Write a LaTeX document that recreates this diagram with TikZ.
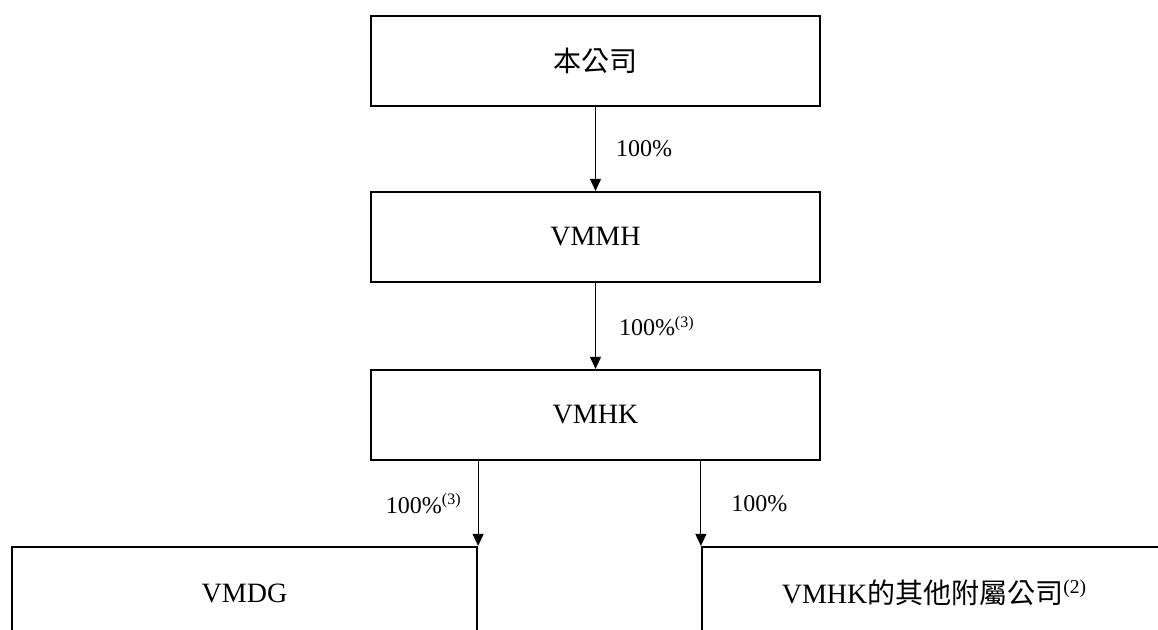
\documentclass[tikz,border=0pt]{standalone}
\usepackage{fontspec}
\setmainfont{Liberation Serif}
\newfontfamily\cjk{Noto Sans CJK TC}
\usetikzlibrary{positioning,arrows.meta}
\tikzset{
entity/.style={draw, line width=1.1pt, minimum width=224.5pt, minimum height=45pt, inner sep=0pt, font=\fontsize{14}{16}\selectfont},
share/.style={-{Triangle[length=6pt,width=5.5pt]}, line width=0.5pt},
pct/.style={font=\fontsize{12}{14}\selectfont, inner sep=0pt}
}

\begin{document}
\begin{tikzpicture}[x=0.5pt,y=-0.5pt]
\useasboundingbox (0,0) rectangle (1158,630);
\clip (0,0) rectangle (1158,630);
\node[entity] (company) at (595.5,61) {\cjk 本公司};
\node[entity] (vmmh) at (595.5,237) {VMMH};
\node[entity] (vmhk) at (595.5,415) {VMHK};
\node[entity, minimum width=232.5pt, minimum height=46pt] (vmdg) at (244.5,593) {VMDG};
\node[entity, minimum width=232.5pt, minimum height=46pt] (others) at (934.5,593) {VMHK{\cjk 的其他附屬公司}\textsuperscript{(2)}};
\draw[share] (company) -- (vmmh) node[pct, midway, right=10pt] (p1) {100\%};
\draw[share] (vmmh) -- (vmhk) node[pct, midway, right=11.5pt] (p2) {100\%\textsuperscript{(3)}};
\draw[share] (vmhk.south -| vmdg.north east) -- (vmdg.north east) node[pct, midway, left=8pt] (p3) {100\%\textsuperscript{(3)}};
\draw[share] (vmhk.south -| others.north west) -- (others.north west) node[pct, midway, right=15pt] (p4) {100\%};
\end{tikzpicture}
\end{document}
